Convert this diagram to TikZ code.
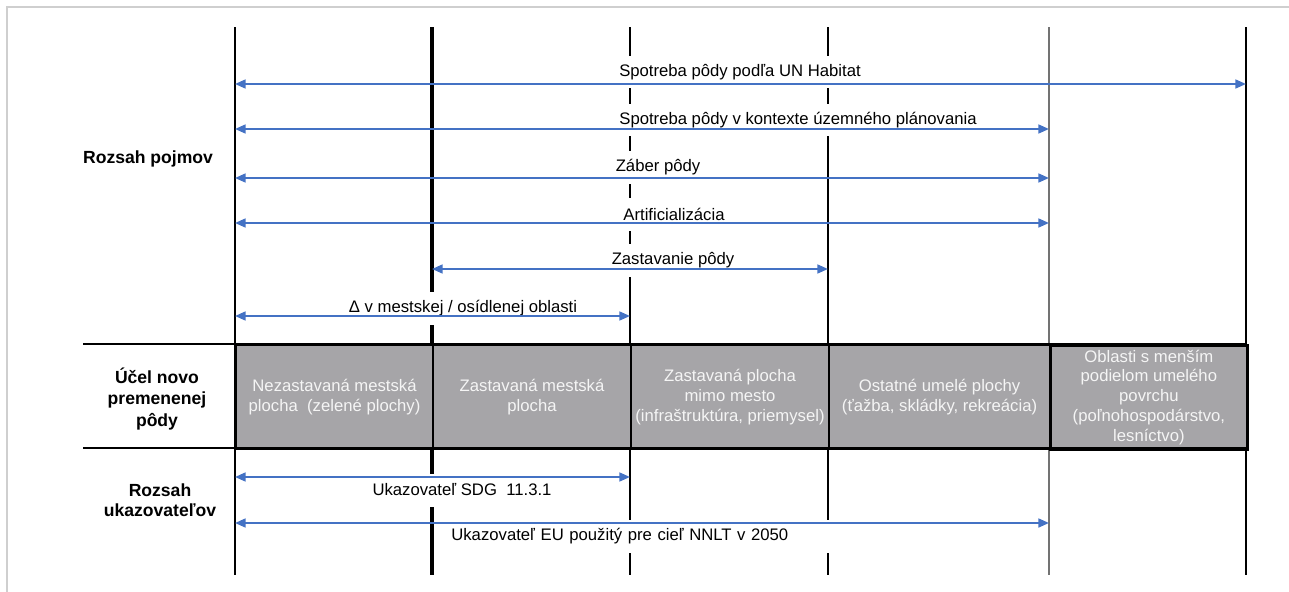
\documentclass[tikz,border=0pt]{standalone}
\usepackage{fontspec}
\setmainfont{Liberation Sans}
\usetikzlibrary{arrows.meta}
\definecolor{spanblue}{HTML}{4472C4}
\definecolor{cellgrey}{HTML}{A6A5A8}
\definecolor{framegrey}{HTML}{CFCFCF}
\definecolor{celltext}{HTML}{F5F5F5}
\begin{document}
\begin{tikzpicture}[x=0.02cm,y=-0.02cm,
    span/.style={spanblue, line width=1.2pt, {Triangle[length=6pt,width=5pt]}-{Triangle[length=6pt,width=5pt]}},
    lbl/.style={fill=white, inner sep=0pt, minimum height=0.66cm, font=\fontsize{9.5}{11}\selectfont},
    col/.style={line width=0.6pt},
    cell/.style={draw=black, line width=1.2pt, fill=cellgrey, text=celltext, align=center, anchor=north west,
        minimum height=2.08cm, inner sep=0pt, font=\fontsize{9.5}{11.3}\selectfont},
    rowhead/.style={align=center, font=\fontsize{10}{12.3}\selectfont\bfseries}]
    \useasboundingbox (0,0) rectangle (1289,592);
    \draw[framegrey, line width=1pt] (7,592) -- (7,7) -- (1289,7);
    % columns
    \foreach \name/\x in {c0/235, c1/432, c2/630, c3/828, c4/1049, c5/1246}
        \coordinate (\name) at (\x,27);
    \foreach \c in {c0,c2,c3,c5}
        \draw[col] (\c) -- ++(0,548);
    \draw[line width=0.9pt, black!55] (c4) -- ++(0,548);
    \draw[line width=2.2pt] (c1) -- ++(0,548);
    % rows of the spans
    \foreach \name/\y in {r1/84, r2/129, r3/178, r4/223, r5/269, r6/316, r7/477, r8/523}
        \coordinate (\name) at (0,\y);
    % labels
    \node[lbl, minimum width=5.8cm] (unhab) at (740,72) {Spotreba pôdy podľa UN Habitat};
    \node[lbl, minimum width=8cm] (kontext) at (798,120) {Spotreba pôdy v kontexte územného plánovania};
    \node[lbl, minimum width=2.6cm] (zaber) at (658,167) {Záber pôdy};
    \node[lbl, minimum width=3cm] (artif) at (674,214) {Artificializácia};
    \node[lbl, minimum width=3cm] (zastav) at (673,260) {Zastavanie pôdy};
    \node[lbl, minimum width=5.4cm] (delta) at (463,308) {Δ v mestskej / osídlenej oblasti};
    \node[lbl, minimum width=4cm] (sdg) at (462,490) {Ukazovateľ SDG~ 11.3.1};
    \node[lbl, anchor=west, text width=7.56cm, inner xsep=0.22cm, align=left] (euind) at (440,536) {Ukazovateľ EU použitý pre cieľ NNLT v 2050};
    % spans
    \draw[span] (c0 |- r1) -- (c5 |- r1);
    \draw[span] (c0 |- r2) -- (c4 |- r2);
    \draw[span] (c0 |- r3) -- (c4 |- r3);
    \draw[span] (c0 |- r4) -- (c4 |- r4);
    \draw[span] (c1 |- r5) -- (c3 |- r5);
    \draw[span] (c0 |- r6) -- (c2 |- r6);
    \draw[span] (c0 |- r7) -- (c2 |- r7);
    \draw[span] (c0 |- r8) -- (c4 |- r8);
    % table
    \coordinate (t) at (83,344);
    \coordinate (b) at (83,448);
    \node[cell, minimum width=3.94cm] (nezast) at (c0 |- t) {Nezastavaná mestská\\plocha~ (zelené plochy)};
    \node[cell, minimum width=3.96cm] (zastmesto) at (c1 |- t) {Zastavaná mestská\\plocha};
    \node[cell, minimum width=3.96cm] (mimo) at (c2 |- t) {Zastavaná plocha\\mimo mesto\\(infraštruktúra, priemysel)};
    \node[cell, minimum width=4.42cm] (ostatne) at (c3 |- t) {Ostatné umelé plochy\\(ťažba, skládky, rekreácia)};
    \node[cell, minimum width=3.94cm, line width=1.6pt] (oblasti) at (c4 |- t) {Oblasti s menším\\podielom umelého\\povrchu\\(poľnohospodárstvo,\\lesníctvo)};
    \draw[line width=1.6pt] (t) -- (t -| c5);
    \draw[line width=1.6pt] (b) -- (b -| c5);
    % row heads
    \node[rowhead] (pojmy) at (148,159) {Rozsah pojmov};
    \node[rowhead] (ucel) at (157,399) {Účel novo\\premenenej\\pôdy};
    \node[rowhead, font=\fontsize{10}{11.3}\selectfont\bfseries] (ukaz) at (160,500) {Rozsah\\ukazovateľov};
\end{tikzpicture}
\end{document}
